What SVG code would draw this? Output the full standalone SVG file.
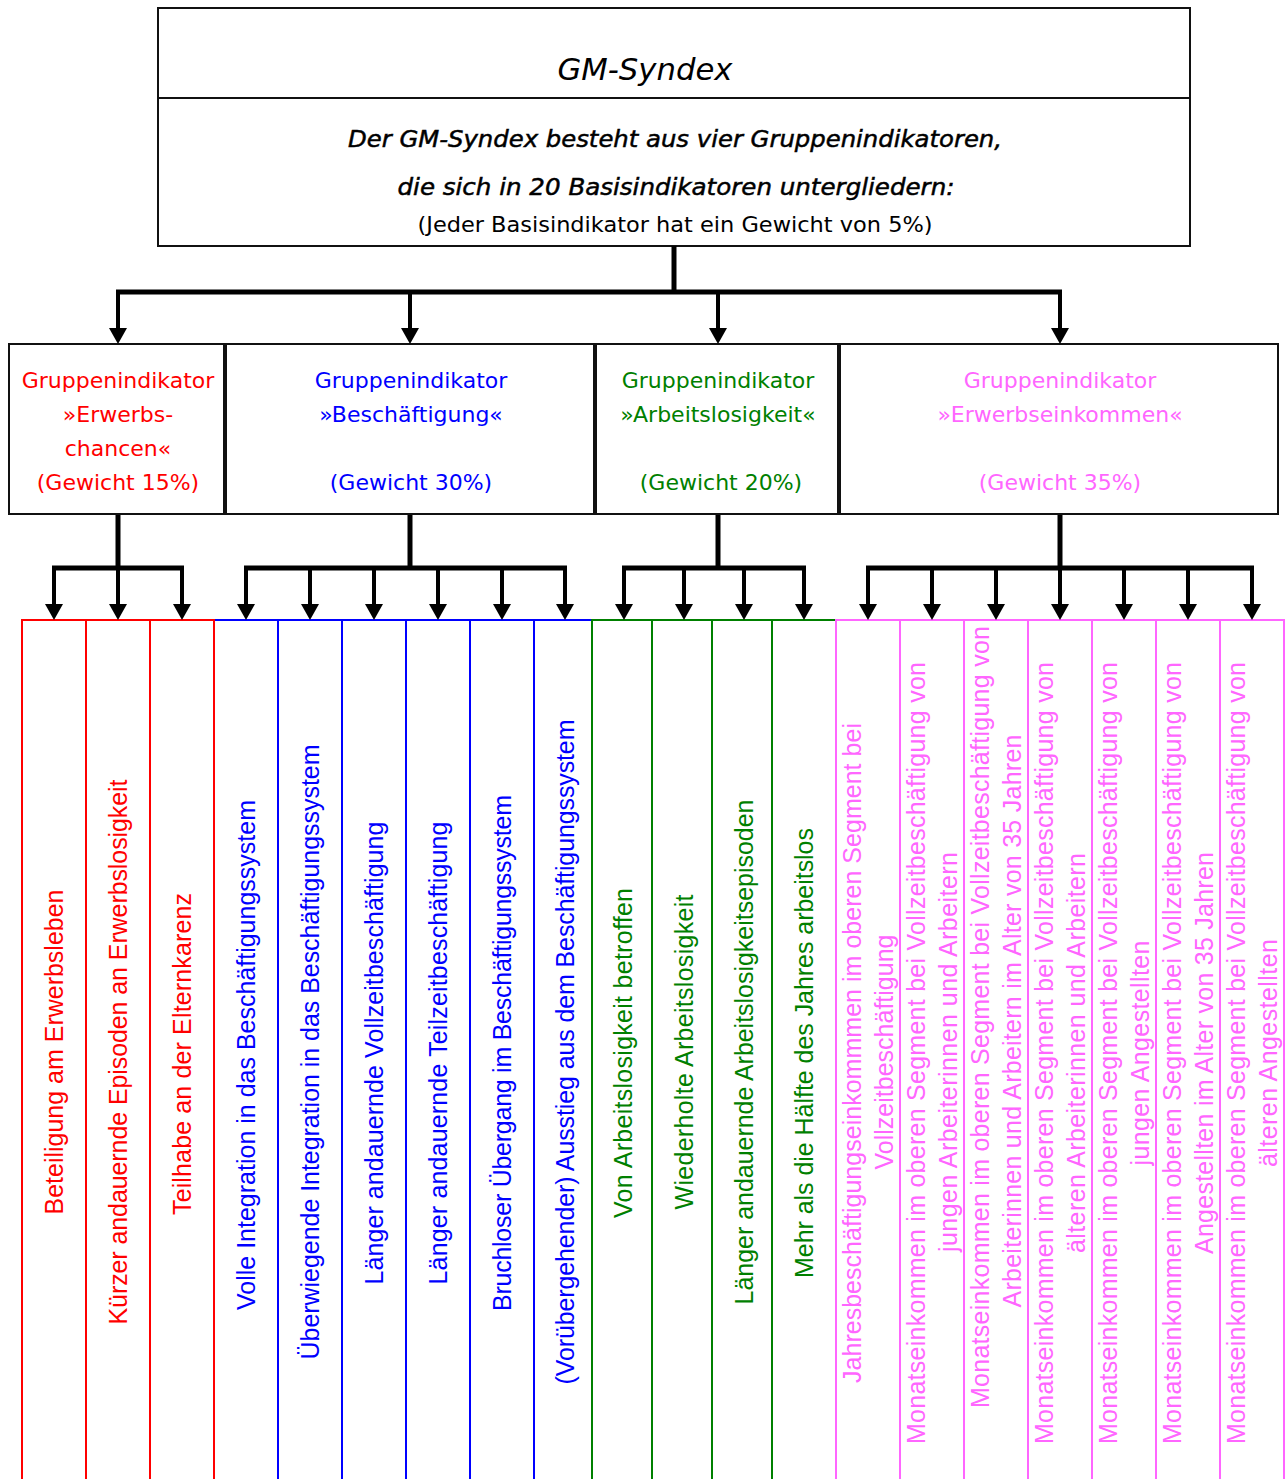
<svg xmlns="http://www.w3.org/2000/svg" width="1286" height="1479" viewBox="0 0 1286 1479">
<style>
.box{fill:#fff;stroke:#111;stroke-width:2}
.ttl{font-family:"DejaVu Sans",Verdana,sans-serif;font-style:italic;font-size:30px;fill:#000;text-anchor:middle}
.sub{font-family:"DejaVu Sans",Verdana,sans-serif;font-style:italic;font-size:23.5px;fill:#000;stroke:#000;stroke-width:0.5;text-anchor:middle}
.note{font-family:"DejaVu Sans",Verdana,sans-serif;font-size:21px;fill:#000;text-anchor:middle}
.grp{font-family:"DejaVu Sans",Verdana,sans-serif;font-size:22px;text-anchor:middle}
.col{font-family:"Liberation Sans",Arial,sans-serif;font-size:25px;text-anchor:middle}
.r{fill:#FF0000}.b{fill:#0000FF}.g{fill:#008000}.p{fill:#FF66FF}
.cr{fill:#fff;stroke:#FF0000;stroke-width:2}
.cb{fill:#fff;stroke:#0000FF;stroke-width:2}
.cg{fill:#fff;stroke:#008000;stroke-width:2}
.cp{fill:#fff;stroke:#FF66FF;stroke-width:2}
.bar{stroke:#000;stroke-width:5;fill:none}
.drop{stroke:#000;stroke-width:4;fill:none;marker-end:url(#ah)}
</style>
<defs>
<marker id="ah" markerUnits="userSpaceOnUse" markerWidth="16" markerHeight="18" refX="0" refY="9" orient="auto" viewBox="0 0 16 18">
<path d="M0,0 L16,9 L0,18 Z" fill="#000"/>
</marker>
</defs>
<rect width="1286" height="1479" fill="#fff"/>

<g id="root">
<rect class="box" x="158" y="8" width="1032" height="238"/>
<line x1="158" y1="98" x2="1190" y2="98" stroke="#111" stroke-width="2"/>
<text class="ttl" x="645" y="80" textLength="175" lengthAdjust="spacingAndGlyphs">GM-Syndex</text>
<text class="sub" x="675" y="147" textLength="654" lengthAdjust="spacingAndGlyphs">Der GM-Syndex besteht aus vier Gruppenindikatoren,</text>
<text class="sub" x="676" y="195" textLength="557" lengthAdjust="spacingAndGlyphs">die sich in 20 Basisindikatoren untergliedern:</text>
<text class="note" x="675" y="232" textLength="515" lengthAdjust="spacingAndGlyphs">(Jeder Basisindikator hat ein Gewicht von 5%)</text>
</g>

<g id="grp-erwerbschancen">
<rect class="box" x="9" y="344" width="215" height="170"/>
<text class="grp r" x="118" y="388">Gruppenindikator</text>
<text class="grp r" x="118" y="422">»Erwerbs-</text>
<text class="grp r" x="118" y="456">chancen«</text>
<text class="grp r" x="118" y="490">(Gewicht 15%)</text>
</g>
<g id="grp-beschaeftigung">
<rect class="box" x="226" y="344" width="368" height="170"/>
<text class="grp b" x="411" y="388">Gruppenindikator</text>
<text class="grp b" x="411" y="422">»Beschäftigung«</text>
<text class="grp b" x="411" y="490">(Gewicht 30%)</text>
</g>
<g id="grp-arbeitslosigkeit">
<rect class="box" x="596" y="344" width="242" height="170"/>
<text class="grp g" x="718" y="388">Gruppenindikator</text>
<text class="grp g" x="718" y="422">»Arbeitslosigkeit«</text>
<text class="grp g" x="721" y="490">(Gewicht 20%)</text>
</g>
<g id="grp-erwerbseinkommen">
<rect class="box" x="840" y="344" width="438" height="170"/>
<text class="grp p" x="1060" y="388">Gruppenindikator</text>
<text class="grp p" x="1060" y="422">»Erwerbseinkommen«</text>
<text class="grp p" x="1060" y="490">(Gewicht 35%)</text>
</g>

<g id="basis-beschaeftigung">
<g id="b4"><rect class="cb" x="214" y="620" width="64" height="900"/>
<text class="col b" transform="translate(255,1055) rotate(-90)" textLength="510" lengthAdjust="spacing">Volle Integration in das Beschäftigungssystem</text></g>
<g id="b5"><rect class="cb" x="278" y="620" width="64" height="900"/>
<text class="col b" transform="translate(319,1052) rotate(-90)" textLength="615" lengthAdjust="spacing">Überwiegende Integration in das Beschäftigungssystem</text></g>
<g id="b6"><rect class="cb" x="342" y="620" width="64" height="900"/>
<text class="col b" transform="translate(383,1053) rotate(-90)" textLength="463" lengthAdjust="spacing">Länger andauernde Vollzeitbeschäftigung</text></g>
<g id="b7"><rect class="cb" x="406" y="620" width="64" height="900"/>
<text class="col b" transform="translate(447,1053) rotate(-90)" textLength="463" lengthAdjust="spacing">Länger andauernde Teilzeitbeschäftigung</text></g>
<g id="b8"><rect class="cb" x="470" y="620" width="64" height="900"/>
<text class="col b" transform="translate(511,1053) rotate(-90)" textLength="516" lengthAdjust="spacing">Bruchloser Übergang im Beschäftigungssystem</text></g>
<g id="b9"><rect class="cb" x="534" y="620" width="58" height="900"/>
<text class="col b" transform="translate(574,1052) rotate(-90)" textLength="665" lengthAdjust="spacing">(Vorübergehender) Ausstieg aus dem Beschäftigungssystem</text></g>
</g>

<g id="basis-erwerbschancen">
<g id="b1"><rect class="cr" x="22" y="620" width="64" height="900"/>
<text class="col r" transform="translate(63,1052) rotate(-90)" textLength="325" lengthAdjust="spacing">Beteiligung am Erwerbsleben</text></g>
<g id="b2"><rect class="cr" x="86" y="620" width="64" height="900"/>
<text class="col r" transform="translate(127,1052) rotate(-90)" textLength="545" lengthAdjust="spacing">Kürzer andauernde Episoden an Erwerbslosigkeit</text></g>
<g id="b3"><rect class="cr" x="150" y="620" width="64" height="900"/>
<text class="col r" transform="translate(191,1054) rotate(-90)" textLength="322" lengthAdjust="spacing">Teilhabe an der Elternkarenz</text></g>
</g>

<g id="basis-arbeitslosigkeit">
<g id="b10"><rect class="cg" x="592" y="620" width="60" height="900"/>
<text class="col g" transform="translate(632,1053) rotate(-90)" textLength="330" lengthAdjust="spacing">Von Arbeitslosigkeit betroffen</text></g>
<g id="b11"><rect class="cg" x="652" y="620" width="60" height="900"/>
<text class="col g" transform="translate(693,1052) rotate(-90)" textLength="315" lengthAdjust="spacing">Wiederholte Arbeitslosigkeit</text></g>
<g id="b12"><rect class="cg" x="712" y="620" width="60" height="900"/>
<text class="col g" transform="translate(753,1052) rotate(-90)" textLength="505" lengthAdjust="spacing">Länger andauernde Arbeitslosigkeitsepisoden</text></g>
<g id="b13"><rect class="cg" x="772" y="620" width="64" height="900"/>
<text class="col g" transform="translate(813,1053) rotate(-90)" textLength="450" lengthAdjust="spacing">Mehr als die Hälfte des Jahres arbeitslos</text></g>
</g>

<g id="basis-erwerbseinkommen">
<g id="b14"><rect class="cp" x="836" y="620" width="64" height="900"/>
<text class="col p" transform="translate(861,1053) rotate(-90)" textLength="660" lengthAdjust="spacing">Jahresbeschäftigungseinkommmen im oberen Segment bei</text>
<text class="col p" transform="translate(893,1052) rotate(-90)" textLength="235" lengthAdjust="spacing">Vollzeitbeschäftigung</text></g>
<g id="b15"><rect class="cp" x="900" y="620" width="64" height="900"/>
<text class="col p" transform="translate(925,1053) rotate(-90)" textLength="782" lengthAdjust="spacing">Monatseinkommen im oberen Segment bei Vollzeitbeschäftigung von</text>
<text class="col p" transform="translate(957,1052) rotate(-90)" textLength="400" lengthAdjust="spacing">jungen Arbeiterinnen und Arbeitern</text></g>
<g id="b16"><rect class="cp" x="964" y="620" width="64" height="900"/>
<text class="col p" transform="translate(989,1017) rotate(-90)" textLength="782" lengthAdjust="spacing">Monatseinkommen im oberen Segment bei Vollzeitbeschäftigung von</text>
<text class="col p" transform="translate(1021,1021) rotate(-90)" textLength="573" lengthAdjust="spacing">Arbeiterinnen und Arbeitern im Alter von 35 Jahren</text></g>
<g id="b17"><rect class="cp" x="1028" y="620" width="64" height="900"/>
<text class="col p" transform="translate(1053,1053) rotate(-90)" textLength="782" lengthAdjust="spacing">Monatseinkommen im oberen Segment bei Vollzeitbeschäftigung von</text>
<text class="col p" transform="translate(1085,1053) rotate(-90)" textLength="400" lengthAdjust="spacing">älteren Arbeiterinnen und Arbeitern</text></g>
<g id="b18"><rect class="cp" x="1092" y="620" width="64" height="900"/>
<text class="col p" transform="translate(1117,1053) rotate(-90)" textLength="782" lengthAdjust="spacing">Monatseinkommen im oberen Segment bei Vollzeitbeschäftigung von</text>
<text class="col p" transform="translate(1149,1053) rotate(-90)" textLength="225" lengthAdjust="spacing">jungen Angestellten</text></g>
<g id="b19"><rect class="cp" x="1156" y="620" width="64" height="900"/>
<text class="col p" transform="translate(1181,1053) rotate(-90)" textLength="782" lengthAdjust="spacing">Monatseinkommen im oberen Segment bei Vollzeitbeschäftigung von</text>
<text class="col p" transform="translate(1213,1053) rotate(-90)" textLength="402" lengthAdjust="spacing">Angestellten im Alter von 35 Jahren</text></g>
<g id="b20"><rect class="cp" x="1220" y="620" width="64" height="900"/>
<text class="col p" transform="translate(1245,1053) rotate(-90)" textLength="782" lengthAdjust="spacing">Monatseinkommen im oberen Segment bei Vollzeitbeschäftigung von</text>
<text class="col p" transform="translate(1277,1053) rotate(-90)" textLength="228" lengthAdjust="spacing">älteren Angestellten</text></g>
</g>

<g id="connectors">
<line class="bar" x1="674" y1="246" x2="674" y2="292"/>
<line class="bar" x1="116" y1="292" x2="1062" y2="292"/>
<line class="drop" x1="118" y1="292" x2="118" y2="328"/>
<line class="drop" x1="410" y1="292" x2="410" y2="328"/>
<line class="drop" x1="718" y1="292" x2="718" y2="328"/>
<line class="drop" x1="1060" y1="292" x2="1060" y2="328"/>

<line class="bar" x1="118" y1="515" x2="118" y2="568"/>
<line class="bar" x1="52" y1="568" x2="184" y2="568"/>
<line class="drop" x1="54" y1="568" x2="54" y2="604"/>
<line class="drop" x1="118" y1="568" x2="118" y2="604"/>
<line class="drop" x1="182" y1="568" x2="182" y2="604"/>

<line class="bar" x1="410" y1="515" x2="410" y2="568"/>
<line class="bar" x1="244" y1="568" x2="567" y2="568"/>
<line class="drop" x1="246" y1="568" x2="246" y2="604"/>
<line class="drop" x1="310" y1="568" x2="310" y2="604"/>
<line class="drop" x1="374" y1="568" x2="374" y2="604"/>
<line class="drop" x1="438" y1="568" x2="438" y2="604"/>
<line class="drop" x1="502" y1="568" x2="502" y2="604"/>
<line class="drop" x1="565" y1="568" x2="565" y2="604"/>

<line class="bar" x1="718" y1="515" x2="718" y2="568"/>
<line class="bar" x1="622" y1="568" x2="806" y2="568"/>
<line class="drop" x1="624" y1="568" x2="624" y2="604"/>
<line class="drop" x1="684" y1="568" x2="684" y2="604"/>
<line class="drop" x1="744" y1="568" x2="744" y2="604"/>
<line class="drop" x1="804" y1="568" x2="804" y2="604"/>

<line class="bar" x1="1060" y1="515" x2="1060" y2="568"/>
<line class="bar" x1="866" y1="568" x2="1254" y2="568"/>
<line class="drop" x1="868" y1="568" x2="868" y2="604"/>
<line class="drop" x1="932" y1="568" x2="932" y2="604"/>
<line class="drop" x1="996" y1="568" x2="996" y2="604"/>
<line class="drop" x1="1060" y1="568" x2="1060" y2="604"/>
<line class="drop" x1="1124" y1="568" x2="1124" y2="604"/>
<line class="drop" x1="1188" y1="568" x2="1188" y2="604"/>
<line class="drop" x1="1252" y1="568" x2="1252" y2="604"/>
</g>
</svg>
